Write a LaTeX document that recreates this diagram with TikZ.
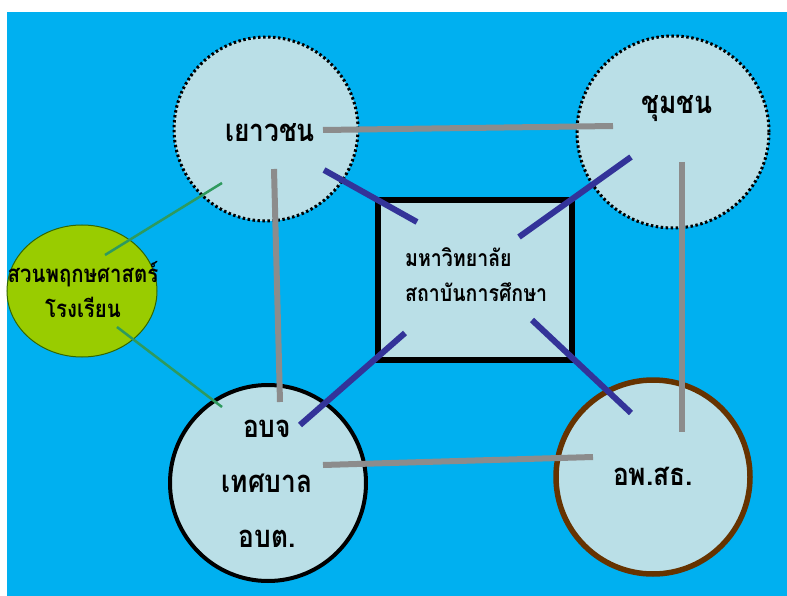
\documentclass[tikz,border=0pt]{standalone}
\usepackage{fontspec}
\newfontfamily\thai[Script=Thai,FakeStretch=0.85]{Loma}
\usetikzlibrary{shapes.geometric}
\definecolor{bgblue}{HTML}{00B0F0}
\definecolor{lb}{HTML}{BADFE7}
\definecolor{gl}{HTML}{8C8C8C}
\definecolor{navy}{HTML}{333399}
\definecolor{gline}{HTML}{2E9A5E}
\definecolor{brownc}{HTML}{663300}
\definecolor{yg}{HTML}{99CC00}
\definecolor{dg}{HTML}{336600}
\begin{document}
\begin{tikzpicture}[x=1pt,y=-1pt,
  circ/.style={circle,fill=lb,inner sep=0pt},
  dotc/.style={circ,draw=black,line width=3pt,dash pattern=on 2.5pt off 2.5pt},
  lbl/.style={font=\thai\bfseries\fontsize{31}{55}\selectfont,align=center,inner sep=0pt},
  slbl/.style={font=\thai\bfseries\fontsize{23}{35}\selectfont,inner sep=0pt},
  grayline/.style={draw=gl,line width=6pt},
  navyline/.style={draw=navy,line width=6pt},
  greenline/.style={draw=gline,line width=2.5pt}]
\useasboundingbox (0,0) rectangle (787,596);
\fill[white] (0,0) rectangle (787,596);
\fill[bgblue] (7,12) rectangle (787,596);
% shapes
\node[dotc,minimum size=184pt] (yw) at (266,129) {};
\node[dotc,minimum size=192pt] (cm) at (673,132) {};
\node[circ,draw=black,line width=4pt,minimum size=196pt] (ob) at (268,483) {};
\node[circ,draw=brownc,line width=5.5pt,minimum size=194pt] (op) at (653,477) {};
\node[ellipse,fill=yg,draw=dg,line width=1pt,minimum width=150pt,minimum height=132pt,inner sep=0pt] (sv) at (82,291) {};
\node[draw=black,fill=lb,line width=6pt,minimum width=194pt,minimum height=160pt] (uni) at (475,280) {};
% connector end points
\coordinate (a1) at (323,130); \coordinate (a2) at (613,126);
\coordinate (b1) at (274,169); \coordinate (b2) at (280,402);
\coordinate (c1) at (682,162); \coordinate (c2) at (682,432);
\coordinate (d1) at (323,465); \coordinate (d2) at (593,457);
\coordinate (e1) at (324,170); \coordinate (e2) at (417,222);
\coordinate (f1) at (631,157); \coordinate (f2) at (519,237);
\coordinate (g1) at (300,425); \coordinate (g2) at (405,333);
\coordinate (h1) at (532,320); \coordinate (h2) at (631,413);
\coordinate (i1) at (105,255); \coordinate (i2) at (222,183);
\coordinate (j1) at (117,327); \coordinate (j2) at (222,407);
% connectors
\draw[grayline] (a1) -- (a2);
\draw[grayline] (b1) -- (b2);
\draw[grayline] (c1) -- (c2);
\draw[grayline] (d1) -- (d2);
\draw[navyline] (e1) -- (e2);
\draw[navyline] (f1) -- (f2);
\draw[navyline] (g1) -- (g2);
\draw[navyline] (h1) -- (h2);
\draw[greenline] (i1) -- (i2);
\draw[greenline] (j1) -- (j2);
% labels
\node[lbl] (tyw) at (270,133) {เยาวชน};
\node[lbl] (tcm) at (677,109) {ชุมชน};
\node[lbl] (tob) at (267,484) {อบจ\\เทศบาล\\อบต.};
\node[lbl] (top) at (653,476) {อพ.สธ.};
\node[slbl,align=left,anchor=west] (tuni) at (405,275) {มหาวิทยาลัย\\สถาบันการศึกษา};
\node[font=\thai\bfseries\fontsize{24}{35}\selectfont,align=center,inner sep=0pt] (tsv) at (83,290) {สวนพฤกษศาสตร์\\โรงเรียน};
\end{tikzpicture}
\end{document}
